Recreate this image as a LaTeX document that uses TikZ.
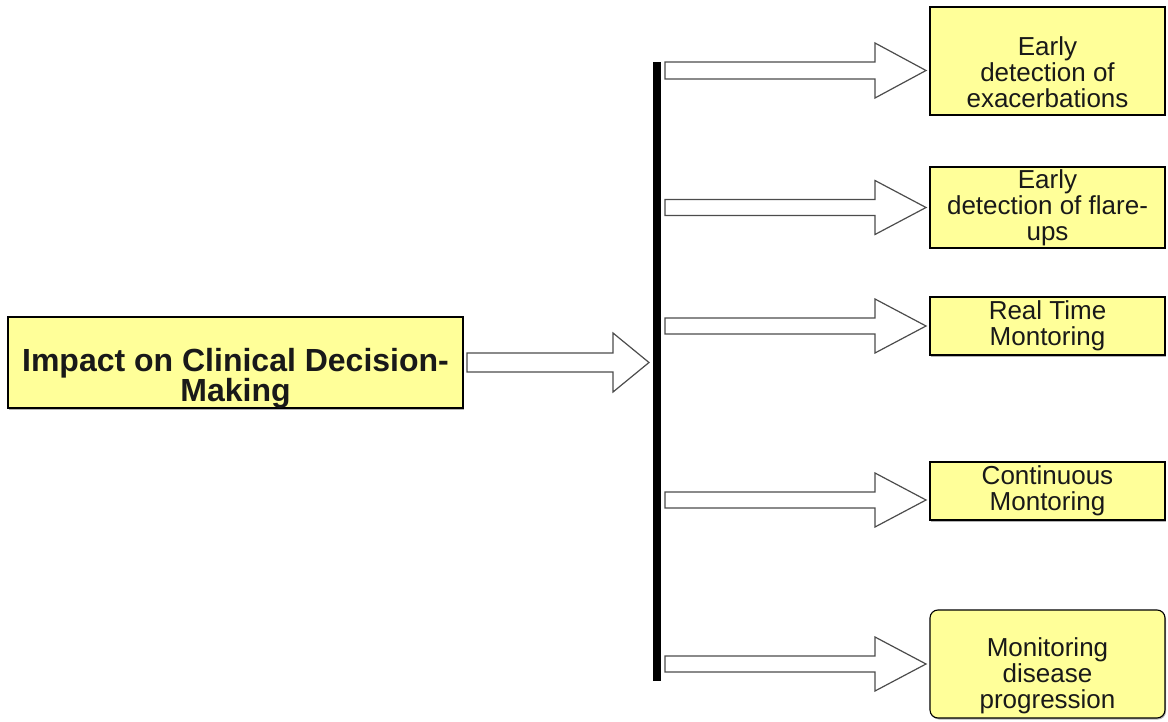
\documentclass[tikz,border=0pt]{standalone}
\usepackage{fontspec}
\setmainfont{Liberation Sans}
\usetikzlibrary{calc,positioning,shadows}
\definecolor{boxyellow}{RGB}{255,255,153}
% hollow block arrow: from, to, shaft half width, head half width, head length
\newcommand{\hollowarrow}[5]{%
  \draw[arr] ($(#1)+(0,#3)$) -- ($(#2)+(-#5,#3)$) -- ($(#2)+(-#5,#4)$) -- (#2)
    -- ($(#2)+(-#5,-#4)$) -- ($(#2)+(-#5,-#3)$) -- ($(#1)+(0,-#3)$) -- cycle;
}

\begin{document}
\begin{tikzpicture}[x=1pt, y=-1pt,
  box/.style={draw, fill=boxyellow, line width=1.1pt, outer sep=4pt,
    minimum width=235pt, inner sep=0pt,
    drop shadow={shadow xshift=1pt, shadow yshift=-1.5pt, opacity=0.6}},
  txt/.style={align=center, text=black!90, font=\fontsize{26}{26}\selectfont},
  arr/.style={draw=black!70, fill=white, line width=1.2pt}
]
\useasboundingbox (0,0) rectangle (1168,722);
% left box and the bar
\node[box, minimum width=455pt, minimum height=91pt,
  label={[txt, yshift=-16pt, font=\fontsize{32}{30}\selectfont\bfseries]center:{Impact on Clinical Decision-\\Making}}] (main) at (235.5,362.5) {};
\node[fill=black, minimum width=8pt, minimum height=619pt, inner sep=0pt, outer sep=4pt] (bar) at (657,371.5) {};

% outcomes
\node[box, minimum height=108pt,
  label={[txt, yshift=-11.5pt]center:{Early\\detection of\\exacerbations}}] (ex) at (1047.5,61) {};
\node[box, txt, minimum height=81pt] (fl) at (1047.5,207.5) {Early\\detection of flare-\\ups};
\node[box, txt, minimum height=58pt] (rt) at (1047.5,326) {Real Time\\Montoring};
\node[box, txt, minimum height=58pt] (cm) at (1047.5,491) {Continuous\\Montoring};
\node[box, rounded corners=8pt, minimum height=108pt,
  label={[txt, yshift=-12pt]center:{Monitoring\\disease\\progression}}] (dp) at (1047.5,664) {};

\coordinate (t1) at ([yshift=-9.5pt]ex.west);
\coordinate (t4) at ([yshift=-9pt]cm.west);

% arrows
\hollowarrow{main.east}{main.east -| bar.west}{9.5}{29.5}{36}
\hollowarrow{bar.east |- t1}{t1}{8.5}{27.5}{51}
\hollowarrow{bar.east |- fl.west}{fl.west}{8}{27}{51}
\hollowarrow{bar.east |- rt.west}{rt.west}{8}{27}{51}
\hollowarrow{bar.east |- t4}{t4}{8}{27}{51}
\hollowarrow{bar.east |- dp.west}{dp.west}{8}{27}{51}
\end{tikzpicture}
\end{document}
